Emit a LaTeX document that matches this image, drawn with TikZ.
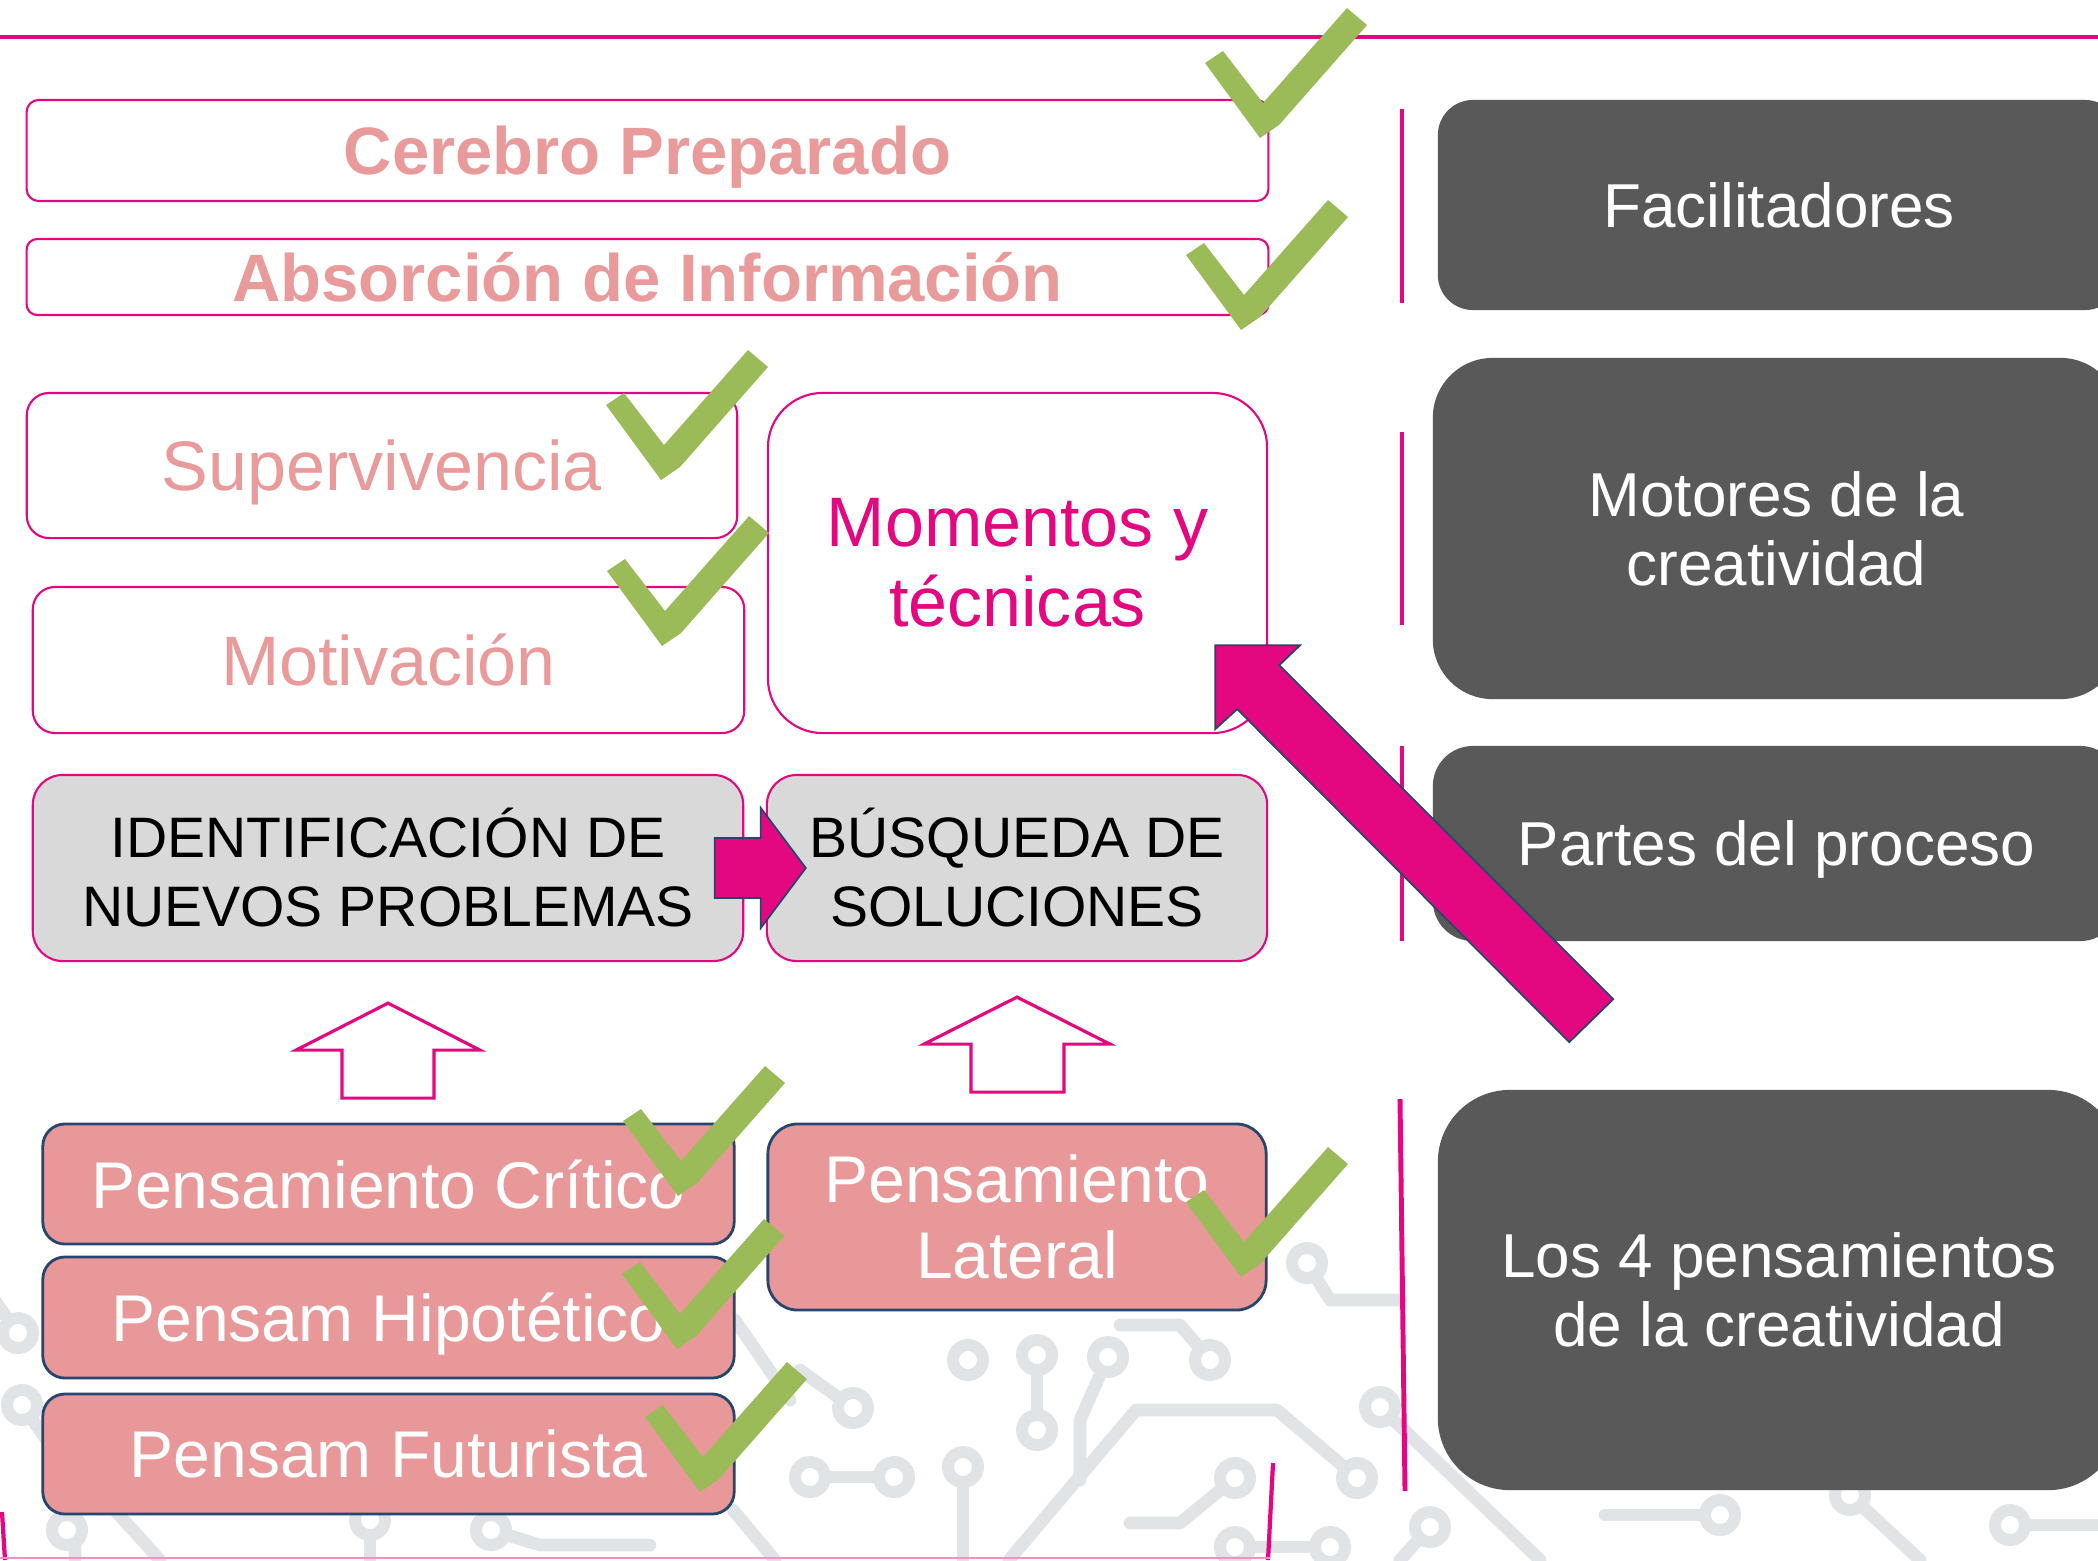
\documentclass[tikz,border=0pt]{standalone}
\usepackage{fontspec}
\setmainfont{Liberation Sans}
\usetikzlibrary{calc}

\definecolor{pinkline}{HTML}{E3087F}
\definecolor{salmontext}{HTML}{E99B9B}
\definecolor{salmonfill}{HTML}{E89898}
\definecolor{lightgrayfill}{HTML}{D9D9D9}
\definecolor{darkbox}{HTML}{595959}
\definecolor{tickgreen}{HTML}{9BBB59}
\definecolor{navyline}{HTML}{27466E}
\definecolor{tracegray}{HTML}{E1E4E7}

\newcommand{\fsTitle}{\fontsize{19.06pt}{22pt}\selectfont\bfseries}
\newcommand{\fsMotor}{\fontsize{19.92pt}{22.76pt}\selectfont}
\newcommand{\fsCaps}{\fontsize{16.22pt}{19.63pt}\selectfont}
\newcommand{\fsThink}{\fontsize{18.78pt}{21.62pt}\selectfont}
\newcommand{\fsPanel}{\fontsize{17.64pt}{19.63pt}\selectfont}

% green tick, given by its lowest point
\newcommand{\greencheck}[1]{\fill[tickgreen] #1 -- ++(-55,-75) -- ++(18,-12) -- ++(40,52) -- ++(84,-95) -- ++(20,17) -- ++(-88,100) -- cycle;}

\begin{document}
\begin{tikzpicture}[x=0.01cm, y=-0.01cm,
        framebox/.style={draw=pinkline, line width=0.6pt, fill=white, rounded corners=6.3pt, inner sep=0pt, align=center},
        stepgray/.style={framebox, fill=lightgrayfill, rounded corners=8.5pt, text=black, font=\fsCaps},
        thinkbox/.style={draw=navyline, line width=0.8pt, fill=salmonfill, rounded corners=6.3pt, inner sep=0pt, align=center, text=white, font=\fsThink},
        darkpanel/.style={fill=darkbox, rounded corners=10pt, inner sep=0pt, align=center, text=white, font=\fsPanel},
        blockarrow/.style={draw=pinkline, line width=0.9pt, fill=white, line join=miter},
        solidarrow/.style={fill=pinkline, draw=navyline, line width=0.5pt, line join=miter},
        sepline/.style={draw=pinkline, line width=1.4pt},
        trace/.style={draw=tracegray, line width=3.6pt, line cap=round, line join=round},
        pad/.style={draw=tracegray, line width=3.4pt, fill=white}
    ]
        % Canvas
        \clip (0,0) rectangle (2098,1560);
        \fill[white] (0,0) rectangle (2098,1560);

        % Faint circuit pattern in the lower half
        \draw[trace] (-20,1280) -- (18,1333);
        \draw[trace] (22,1405) -- (75,1480) -- (75,1560);
        \draw[trace] (112,1507) -- (160,1560);
        \draw[trace] (370,1520) -- (370,1560);
        \draw[trace] (491,1530) -- (540,1545) -- (650,1545);
        \draw[trace] (733,1510) -- (775,1560);
        \draw[trace] (735,1320) -- (790,1400);
        \draw[trace] (810,1477) -- (894,1477);
        \draw[trace] (853,1408) -- (800,1370);
        \draw[trace] (963,1467) -- (963,1560);
        \draw[trace] (1037,1355) -- (1037,1430);
        \draw[trace] (1108,1357) -- (1080,1420) -- (1080,1480);
        \draw[trace] (1210,1360) -- (1180,1325) -- (1120,1325);
        \draw[trace] (1009,1560) -- (1136,1410) -- (1277,1410) -- (1357,1478);
        \draw[trace] (1235,1478) -- (1180,1523) -- (1130,1523);
        \draw[trace] (1235,1547) -- (1330,1547);
        \draw[trace] (1380,1407) -- (1540,1560);
        \draw[trace] (1307,1263) -- (1330,1300) -- (1400,1300);
        \draw[trace] (1430,1527) -- (1400,1560);
        \draw[trace] (1605,1515) -- (1720,1515);
        \draw[trace] (1850,1495) -- (1920,1560);
        \draw[trace] (2010,1525) -- (2098,1525);
        \foreach \p in {(18,1333),(22,1405),(67,1530),(370,1520),(491,1530),(810,1477),(894,1477),
                (853,1408),(963,1467),(968,1360),(1037,1355),(1108,1357),(1037,1430),(1210,1360),
                (1357,1478),(1235,1478),(1235,1547),(1330,1547),(1380,1407),(1307,1263),(1430,1527),
                (1720,1515),(1850,1495),(2010,1525)}
            \draw[pad] \p circle[radius=15];

        % Top rule
        \draw[pinkline, line width=0.9pt] (0,37) -- (2098,37);

        % Left column: factors
        \node[framebox, minimum width=12.41cm, minimum height=1.01cm, rounded corners=3.4pt, text=salmontext, font=\fsTitle, text depth=0pt] (cerebro) at (647.5,150.5) {Cerebro Preparado};
        \node[framebox, minimum width=12.41cm, minimum height=0.76cm, rounded corners=3pt, text=salmontext, font=\fsTitle] (absorcion) at (647.5,277) {Absorción de Información};
        \node[framebox, minimum width=7.10cm, minimum height=1.45cm, text=salmontext, font=\fsMotor, text depth=0pt] (superv) at (382,465.5) {Supervivencia};
        \node[framebox, minimum width=7.11cm, minimum height=1.46cm, text=salmontext, font=\fsMotor] (motiv) at (388.5,660) {Motivación};
        \node[framebox, minimum width=4.99cm, minimum height=3.40cm, rounded corners=15.6pt, text=pinkline, font=\fsMotor] (momentos) at (1017.5,563) {Momentos y\\técnicas};

        % Process steps
        \node[stepgray, minimum width=7.10cm, minimum height=1.86cm] (ident) at (388,868) {IDENTIFICACIÓN DE\\NUEVOS PROBLEMAS};
        \node[stepgray, minimum width=5.00cm, minimum height=1.86cm] (busq) at (1017,868) {BÚSQUEDA DE\\SOLUCIONES};

        % The four kinds of thinking
        \node[thinkbox, minimum width=6.91cm, minimum height=1.20cm] (critico) at (388.5,1184) {Pensamiento Crítico};
        \node[thinkbox, minimum width=6.91cm, minimum height=1.21cm, text depth=0pt] (hipotetico) at (388.5,1317.5) {Pensam Hipotético};
        \node[thinkbox, minimum width=6.91cm, minimum height=1.20cm] (futurista) at (388.5,1454) {Pensam Futurista};
        \node[thinkbox, minimum width=4.98cm, minimum height=1.86cm, rounded corners=8.5pt] (lateral) at (1017,1217) {Pensamiento\\Lateral};

        % Right column: captions
        \node[darkpanel, minimum width=6.82cm, minimum height=2.10cm] (facil) at (1779,205) {Facilitadores};
        \node[darkpanel, minimum width=6.87cm, minimum height=3.41cm, rounded corners=17pt] (motores) at (1776.5,528.5) {Motores de la\\creatividad};
        \node[darkpanel, minimum width=6.87cm, minimum height=1.95cm, rounded corners=11.4pt, text depth=0pt] (partes) at (1776.5,843.5) {Partes del proceso};
        \node[darkpanel, minimum width=6.82cm, minimum height=4.00cm, rounded corners=20.5pt] (los4) at (1779,1290) {Los 4 pensamientos\\de la creatividad};

        % Separators
        \draw[sepline] (1402,109) -- (1402,303);
        \draw[sepline] (1402,432) -- (1402,625);
        \draw[sepline] (1402,746) -- (1402,941);
        \draw[sepline] (1400,1099) -- (1405,1491);
        \draw[sepline, line width=1.2pt] (1273,1463) -- (1268,1560);
        \draw[sepline, line width=1.2pt] (2,1512) -- (5,1560);
        \draw[pinkline!45, line width=0.8pt] (0,1558) -- (1270,1558);

        % Block arrows
        \coordinate (up1tip) at ($(ident.south)+(0,41)$);
        \coordinate (up2tip) at ($(busq.south)+(0,35)$);
        \draw[blockarrow] (up1tip) -- ++(92,47) -- ++(-46,0) -- ++(0,48) -- ++(-92,0) -- ++(0,-48) -- ++(-46,0) -- cycle;
        \draw[blockarrow] (up2tip) -- ++(93,47) -- ++(-46,0) -- ++(0,48) -- ++(-93,0) -- ++(0,-48) -- ++(-47,0) -- cycle;
        \coordinate (smalltip) at ($(busq.west)+(40,0)$);
        \draw[solidarrow] (smalltip) -- ++(-45,-60) -- ++(0,30) -- ++(-46,0) -- ++(0,60) -- ++(46,0) -- ++(0,30) -- cycle;
        \coordinate (bigtip) at ($(momentos.south east)+(-53,-89)$);
        \draw[solidarrow] (bigtip) -- ++(85,0) -- ++(-21,20) -- ++(334,334) -- ++(-44,43) -- ++(-332,-333) -- ++(-22,20) -- cycle;

        % Ticks
        \greencheck{(1260,138)}
        \greencheck{(1241,330)}
        \greencheck{(661,480)}
        \greencheck{(662,646)}
        \greencheck{(678,1196)}
        \greencheck{(677,1349)}
        \greencheck{(700,1492)}
        \greencheck{(1241,1277)}
    \end{tikzpicture}
\end{document}
